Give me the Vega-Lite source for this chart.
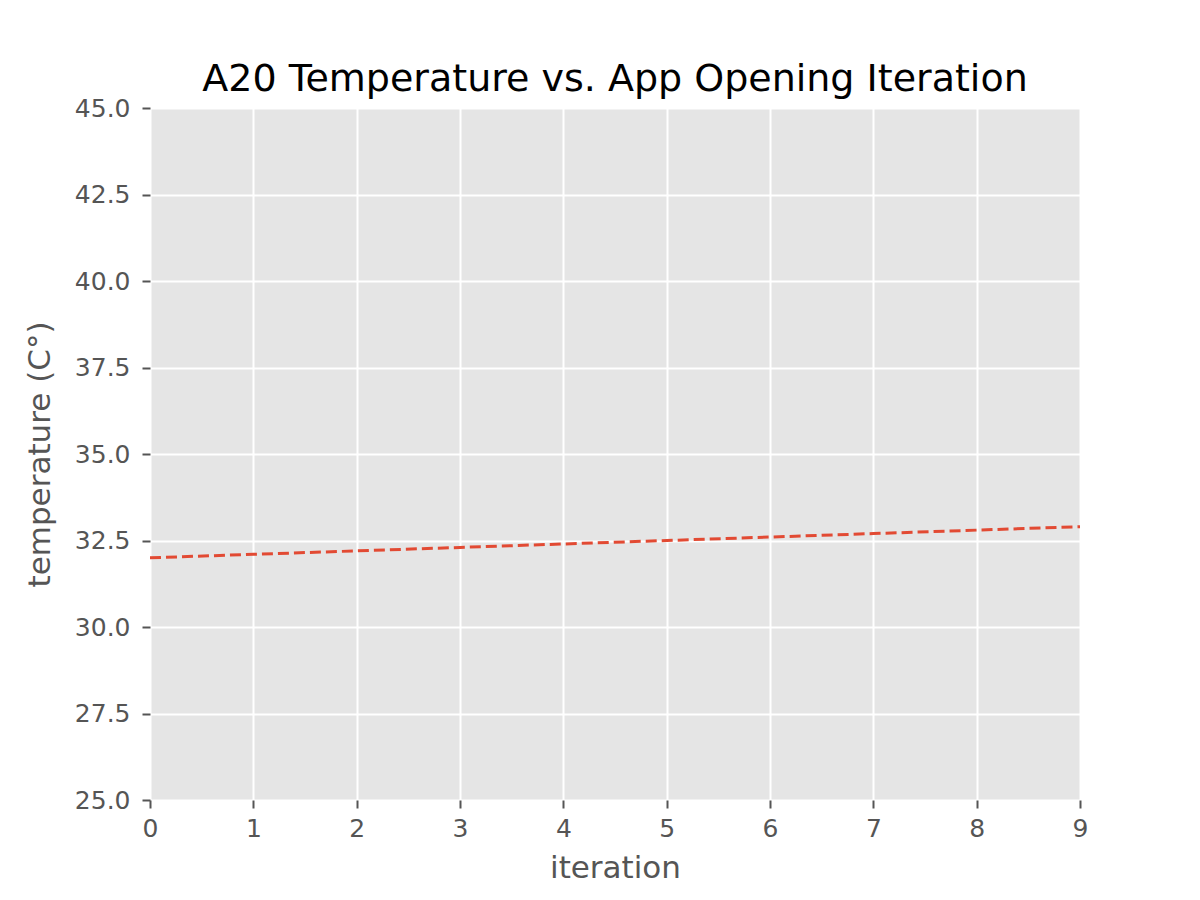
{
  "$schema": "https://vega.github.io/schema/vega-lite/v6.json",
  "width": 930,
  "height": 692,
  "autosize": {"type": "none"},
  "padding": {"left": 150, "top": 108, "right": 120, "bottom": 100},
  "background": "white",
  "config": {
    "view": {"fill": "#E5E5E5", "stroke": null},
    "font": "DejaVu Sans",
    "axis": {
      "grid": true,
      "gridColor": "white",
      "gridWidth": 2,
      "domain": false,
      "tickColor": "#555555",
      "tickSize": 8,
      "tickWidth": 2,
      "labelColor": "#555555",
      "labelFont": "DejaVu Sans",
      "labelFontSize": 25,
      "labelFlush": false,
      "titleColor": "#555555",
      "titleFont": "DejaVu Sans",
      "titleFontSize": 31,
      "titleFontWeight": "normal"
    }
  },
  "title": {
    "text": "A20 Temperature vs. App Opening Iteration",
    "font": "DejaVu Sans",
    "fontSize": 38,
    "fontWeight": "normal",
    "color": "black",
    "anchor": "middle",
    "offset": -3
  },
  "data": {
    "values": [
      {"iteration": 0, "temperature": 32.0},
      {"iteration": 1, "temperature": 32.1},
      {"iteration": 2, "temperature": 32.2},
      {"iteration": 3, "temperature": 32.3},
      {"iteration": 4, "temperature": 32.4},
      {"iteration": 5, "temperature": 32.5},
      {"iteration": 6, "temperature": 32.6},
      {"iteration": 7, "temperature": 32.7},
      {"iteration": 8, "temperature": 32.8},
      {"iteration": 9, "temperature": 32.9}
    ]
  },
  "mark": {
    "type": "line",
    "color": "#E24A33",
    "strokeWidth": 3,
    "strokeDash": [11, 5]
  },
  "encoding": {
    "x": {
      "field": "iteration",
      "type": "quantitative",
      "scale": {"domain": [0, 9], "nice": false, "zero": false},
      "axis": {
        "title": "iteration",
        "values": [0, 1, 2, 3, 4, 5, 6, 7, 8, 9],
        "format": "d",
        "labelPadding": 8,
        "titlePadding": 12
      }
    },
    "y": {
      "field": "temperature",
      "type": "quantitative",
      "scale": {"domain": [25, 45], "nice": false, "zero": false},
      "axis": {
        "title": "temperature (C°)",
        "values": [25, 27.5, 30, 32.5, 35, 37.5, 40, 42.5, 45],
        "format": ".1f",
        "labelPadding": 12,
        "titlePadding": 18
      }
    }
  }
}
